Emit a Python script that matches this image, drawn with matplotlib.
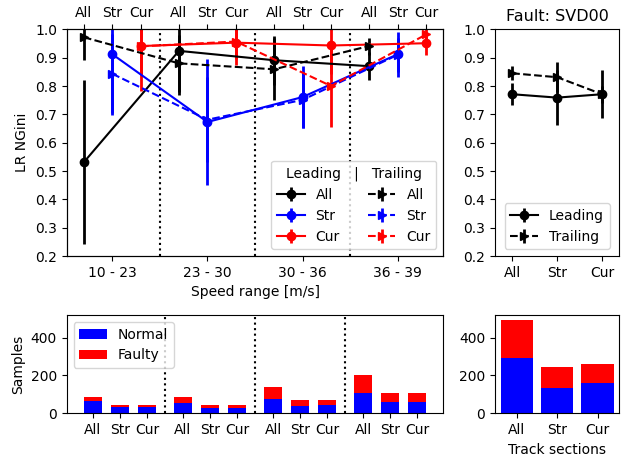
import numpy as np
import matplotlib
matplotlib.use('Agg')
import matplotlib.pyplot as plt

# speed ranges and track sections
speed_ranges = ['10 - 23', '23 - 30', '30 - 36', '36 - 39']
sections = ['All', 'Str', 'Cur']

# LR NGini per speed range (leading / trailing axle)
lead_all = [0.531, 0.924, 0.891, 0.870]
lead_all_err = [0.29, 0.157, 0.086, 0.05]
lead_str = [0.912, 0.673, 0.761, 0.912]
lead_str_err = [0.213, 0.222, 0.11, 0.08]
lead_cur = [0.941, 0.953, 0.943, 0.951]
lead_cur_err = [0.157, 0.08, 0.10, 0.04]
trail_all = [0.972, 0.880, 0.859, 0.941]
trail_all_err = [0.08, 0.10, 0.11, 0.03]
trail_str = [0.843, 0.681, 0.751, 0.910]
trail_str_err = [0.14, 0.15, 0.10, 0.06]
trail_cur = [0.940, 0.957, 0.800, 0.982]
trail_cur_err = [0.10, 0.06, 0.143, 0.02]

# LR NGini over all speeds
lead_tot = [0.771, 0.759, 0.771]
lead_tot_err = [0.038, 0.097, 0.084]
trail_tot = [0.845, 0.831, 0.771]
trail_tot_err = [0.025, 0.053, 0.03]

# sample counts per speed range (All, Str, Cur)
normal_counts = [[66, 35, 35], [54, 30, 30], [75, 40, 43], [106, 61, 61]]
faulty_counts = [[21, 10, 10], [31, 13, 13], [62, 31, 28], [94, 45, 45]]
normal_tot = [290, 132, 158]
faulty_tot = [205, 111, 101]

offsets = np.array([-0.3, 0, 0.3])
centers = np.arange(len(speed_ranges))
pos = (centers[:, None] + offsets[None, :]).ravel()

fig = plt.figure(figsize=(6.27, 4.57), dpi=100)
ax1 = fig.add_axes([0.1064, 0.4398, 0.6006, 0.496])
ax2 = fig.add_axes([0.7895, 0.4398, 0.1982, 0.496])
ax3 = fig.add_axes([0.1064, 0.0956, 0.6006, 0.2151])
ax4 = fig.add_axes([0.7895, 0.0956, 0.1982, 0.2151], sharey=ax3)

# --- top left: NGini vs speed range
lead = [(lead_all, lead_all_err, 'k', 'All'), (lead_str, lead_str_err, 'b', 'Str'),
        (lead_cur, lead_cur_err, 'r', 'Cur')]
trail = [(trail_all, trail_all_err, 'k', 'All'), (trail_str, trail_str_err, 'b', 'Str'),
         (trail_cur, trail_cur_err, 'r', 'Cur')]
for i, (y, e, c, lab) in enumerate(lead):
    ax1.errorbar(centers + offsets[i], y, yerr=e, fmt='o-', color=c, elinewidth=2, label=lab)
for i, (y, e, c, lab) in enumerate(trail):
    ax1.errorbar(centers + offsets[i], y, yerr=e, fmt='>--', color=c, elinewidth=2, label=lab)
for xv in centers[:-1] + 0.5:
    ax1.axvline(xv, color='k', linestyle=':', linewidth=1.5)
ax1.set_ylim(0.2, 1.0)
ax1.set_xlim(pos[0] - 0.18, pos[-1] + 0.18)
ax1.set_xticks(centers)
ax1.set_xticklabels(speed_ranges)
ax1.set_xlabel('Speed range [m/s]')
ax1.set_ylabel('LR NGini')
ax1.legend(ncol=2, loc='lower right', title='Leading   |   Trailing')
ax1t = ax1.twiny()
ax1t.set_xlim(ax1.get_xlim())
ax1t.set_xticks(pos)
ax1t.set_xticklabels(sections * len(speed_ranges))

# --- top right: overall
xs = np.arange(len(sections))
ax2.errorbar(xs, lead_tot, yerr=lead_tot_err, fmt='o-', color='k', elinewidth=2, label='Leading')
ax2.errorbar(xs, trail_tot, yerr=trail_tot_err, fmt='>--', color='k', elinewidth=2, label='Trailing')
ax2.set_ylim(0.2, 1.0)
ax2.set_xlim(-0.38, 2.38)
ax2.set_xticks(xs)
ax2.set_xticklabels(sections)
ax2.set_title('Fault: SVD00', fontsize=11.5)
ax2.legend(loc='lower center')

# --- bottom left: samples
nrm = np.array(normal_counts).ravel()
flt = np.array(faulty_counts).ravel()
ax3.bar(pos, nrm, width=0.2, color='b', label='Normal')
ax3.bar(pos, flt, width=0.2, bottom=nrm, color='r', label='Faulty')
for xv in centers[:-1] + 0.5:
    ax3.axvline(xv, color='k', linestyle=':', linewidth=1.5)
ax3.set_xticks(pos)
ax3.set_xticklabels(sections * len(speed_ranges))
ax3.set_ylabel('Samples')
ax3.set_yticks([0, 200, 400])
ax3.legend(loc='upper left')

# --- bottom right: samples overall
ax4.bar(xs, normal_tot, color='b')
ax4.bar(xs, faulty_tot, bottom=normal_tot, color='r')
ax4.set_xticks(xs)
ax4.set_xticklabels(sections)
ax4.set_xlabel('Track sections')

fig.savefig('out.png', dpi=100)
